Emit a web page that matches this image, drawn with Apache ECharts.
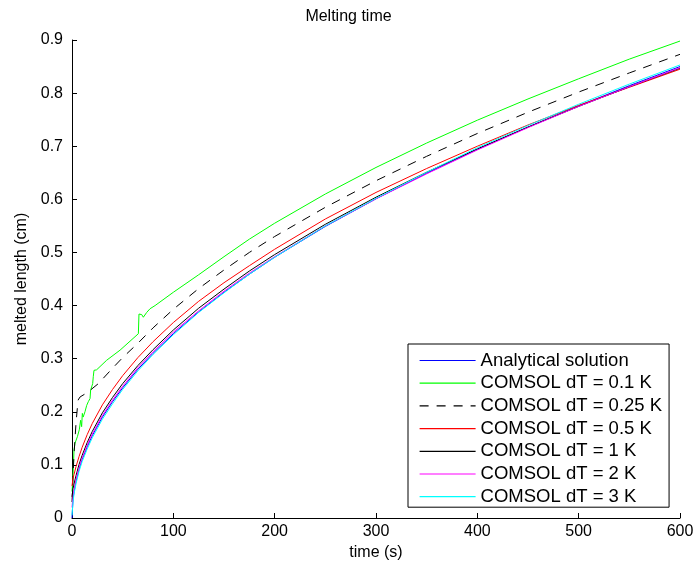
<!DOCTYPE html>
<html><head><meta charset="utf-8">
<script src="https://cdn.jsdelivr.net/npm/echarts@6/dist/echarts.min.js"></script>
<style>html,body{margin:0;padding:0;background:#fff}#c{width:697px;height:570px}</style>
</head><body><div id="c"></div>
<script>
// Shared time grid (s) for smooth curves
const timeGrid = [0, 1, 2, 4, 7, 10, 15, 20, 30, 40, 50, 65, 80, 100, 125, 150, 175, 200, 250, 300, 350, 400, 450, 500, 550, 600];
const analytical = [0, 0.035, 0.049, 0.069, 0.092, 0.110, 0.134, 0.155, 0.190, 0.219, 0.245, 0.280, 0.310, 0.347, 0.388, 0.425, 0.459, 0.491, 0.549, 0.601, 0.649, 0.694, 0.736, 0.776, 0.814, 0.850];
const dT05 = [0.060, 0.075, 0.082, 0.097, 0.116, 0.133, 0.157, 0.178, 0.213, 0.242, 0.268, 0.302, 0.332, 0.368, 0.408, 0.443, 0.475, 0.506, 0.563, 0.613, 0.658, 0.700, 0.740, 0.777, 0.811, 0.845];
const dT1 = [0.040, 0.055, 0.064, 0.080, 0.101, 0.118, 0.142, 0.163, 0.198, 0.227, 0.253, 0.287, 0.317, 0.354, 0.395, 0.431, 0.465, 0.496, 0.553, 0.604, 0.651, 0.695, 0.736, 0.775, 0.812, 0.847];
const dT2 = [0.020, 0.040, 0.053, 0.073, 0.095, 0.113, 0.137, 0.158, 0.193, 0.222, 0.248, 0.283, 0.313, 0.350, 0.390, 0.427, 0.461, 0.492, 0.550, 0.601, 0.648, 0.693, 0.735, 0.775, 0.812, 0.848];
const dT3 = [0.005, 0.030, 0.045, 0.065, 0.088, 0.106, 0.130, 0.151, 0.186, 0.215, 0.242, 0.277, 0.308, 0.345, 0.387, 0.424, 0.459, 0.491, 0.550, 0.602, 0.651, 0.697, 0.739, 0.779, 0.817, 0.853];
// dT = 0.1 K (jagged)
const timeG = [0, 0.7, 2, 3, 5.3, 7.2, 8.5, 9.5, 10.2, 11, 12.8, 14.5, 16.1, 17.8, 18.4, 19.5, 20.4, 21, 21.7, 24.3, 34.2, 47.4, 65.5, 66.1, 68.8, 70.4, 73.7, 77, 82, 100, 125, 150, 175, 200, 250, 300, 350, 400, 450, 500, 550, 600];
const dT01 = [0.05, 0.066, 0.128, 0.141, 0.153, 0.166, 0.184, 0.172, 0.197, 0.19, 0.200, 0.212, 0.219, 0.225, 0.241, 0.238, 0.253, 0.266, 0.278, 0.279, 0.297, 0.316, 0.347, 0.384, 0.383, 0.378, 0.387, 0.394, 0.400, 0.425, 0.458, 0.492, 0.525, 0.555, 0.610, 0.660, 0.706, 0.749, 0.789, 0.827, 0.864, 0.898];
// dT = 0.25 K
const timeD = [0, 0.5, 1, 2, 3, 4, 6, 8, 15, 26, 40, 50, 65, 80, 100, 125, 150, 175, 200, 250, 300, 350, 400, 450, 500, 550, 600];
const dT025 = [0.03, 0.05, 0.08, 0.12, 0.15, 0.18, 0.222, 0.228, 0.236, 0.253, 0.282, 0.302, 0.329, 0.358, 0.393, 0.432, 0.467, 0.500, 0.530, 0.585, 0.635, 0.681, 0.724, 0.764, 0.802, 0.838, 0.873];

const names = ['Analytical solution', 'COMSOL dT = 0.1 K', 'COMSOL dT = 0.25 K', 'COMSOL dT = 0.5 K', 'COMSOL dT = 1 K', 'COMSOL dT = 2 K', 'COMSOL dT = 3 K'];
const FONT = '"Liberation Sans", Arial, Helvetica, sans-serif';
const zip = (t, v) => t.map((x, i) => [x, v[i]]);

function mk(name, t, v, color, type) {
  return {
    name, type: 'line', data: zip(t, v), symbol: 'none', showSymbol: false,
    lineStyle: { color, width: 1, type: type || 'solid' }, itemStyle: { color },
    animation: false, smooth: false
  };
}

const chart = echarts.init(document.getElementById('c'));
chart.setOption({
  animation: false,
  textStyle: { fontFamily: FONT },
  title: { text: 'Melting time', left: 'center', top: 4,
    textStyle: { fontFamily: FONT, fontSize: 16, fontWeight: 'normal', color: '#000' } },
  grid: { left: 72, right: 17, top: 40, bottom: 52 },
  xAxis: {
    type: 'value', min: 0, max: 600, interval: 100,
    name: 'time (s)', nameLocation: 'middle', nameGap: 21,
    nameTextStyle: { fontFamily: FONT, fontSize: 16, color: '#000' },
    axisLine: { show: true, onZero: false, lineStyle: { color: '#000', width: 1 } },
    axisTick: { show: true, inside: true, length: 5, lineStyle: { color: '#000' } },
    axisLabel: { fontFamily: FONT, fontSize: 16, color: '#000', margin: 6 },
    splitLine: { show: false }
  },
  yAxis: {
    type: 'value', min: 0, max: 0.9, interval: 0.1,
    name: 'melted length (cm)', nameLocation: 'middle', nameGap: 42,
    nameTextStyle: { fontFamily: FONT, fontSize: 16, color: '#000' },
    axisLine: { show: true, onZero: false, lineStyle: { color: '#000', width: 1 } },
    axisTick: { show: true, inside: true, length: 5, lineStyle: { color: '#000' } },
    axisLabel: { fontFamily: FONT, fontSize: 16, color: '#000', margin: 9 },
    splitLine: { show: false }
  },
  legend: {
    orient: 'vertical', left: 408, top: 344,
    data: names,
    itemWidth: 56, itemHeight: 14, itemGap: 3.7,
    padding: [7, 7, 1, 11],
    borderColor: '#000', borderWidth: 1, backgroundColor: '#fff',
    itemStyle: { opacity: 0 },
    lineStyle: { width: 1.2 },
    textStyle: { fontFamily: FONT, fontSize: 18.5, lineHeight: 18, color: '#000' },
    selectedMode: false
  },
  series: [
    mk(names[0], timeGrid, analytical, '#0000ff'),
    mk(names[1], timeG, dT01, '#00ff00'),
    mk(names[2], timeD, dT025, '#000000', [9, 8]),
    mk(names[3], timeGrid, dT05, '#ff0000'),
    mk(names[4], timeGrid, dT1, '#000000'),
    mk(names[5], timeGrid, dT2, '#ff00ff'),
    mk(names[6], timeGrid, dT3, '#00ffff')
  ]
});
</script>
</body></html>
